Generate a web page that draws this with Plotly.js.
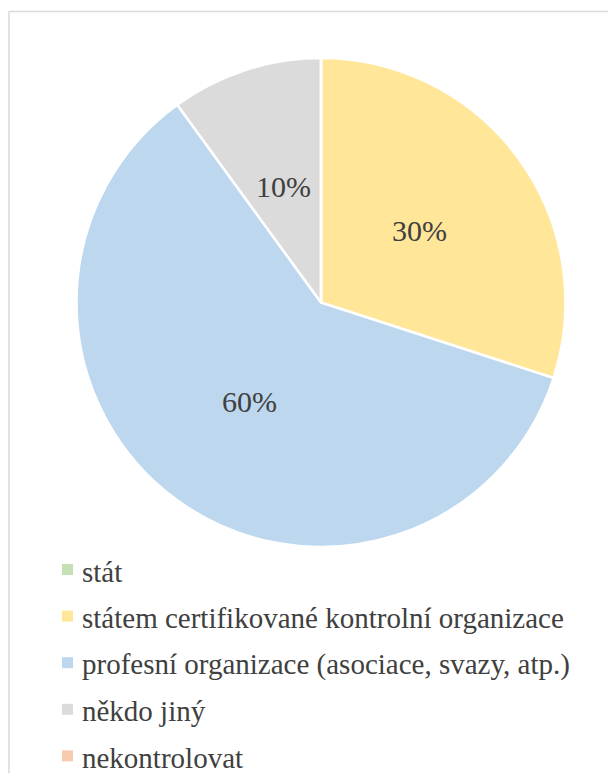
<!DOCTYPE html>
<html>
<head>
<meta charset="utf-8">
<script src="https://cdn.plot.ly/plotly-3.0.1.min.js"></script>
<style>html,body{margin:0;padding:0;background:#fff;}</style>
</head>
<body>
<div id="chart" style="width:608px;height:773px;"></div>
<script>
const categories = [
  "stát",
  "státem certifikované kontrolní organizace",
  "profesní organizace (asociace, svazy, atp.)",
  "někdo jiný",
  "nekontrolovat"
];
const values = [0, 30, 60, 10, 0];
const colors = ["#C5E0B4", "#FFE699", "#BDD7EE", "#DBDBDB", "#F8CBAD"];

const W = 608, H = 773;
const fontFam = "Liberation Serif";
const textColor = "#404040";

// pie placement (pixels)
const pieTop = 58, pieBottom = 547, pieLeft = 76, pieRight = 566;
const cx = (pieLeft + pieRight) / 2, cy = (pieTop + pieBottom) / 2;
const R = Math.min(pieRight - pieLeft, pieBottom - pieTop) / 2;

const trace = {
  type: "pie",
  labels: categories,
  values: values,
  sort: false,
  direction: "clockwise",
  rotation: 0,
  marker: { colors: colors, line: { color: "#ffffff", width: 2.5 } },
  textinfo: "none",
  hoverinfo: "label+percent",
  showlegend: false,
  domain: { x: [pieLeft / W, pieRight / W], y: [1 - pieBottom / H, 1 - pieTop / H] }
};

const annotations = [];
// percentage labels at half radius on each slice's mid-angle (clockwise from 12 o'clock)
const total = values.reduce((a, b) => a + b, 0);
let cum = 0;
values.forEach((v, i) => {
  const start = cum;
  cum += v;
  if (v <= 0) return;
  const mid = ((start + v / 2) / total) * 2 * Math.PI;
  const px = cx + 0.5 * R * Math.sin(mid);
  const py = cy - 0.5 * R * Math.cos(mid);
  annotations.push({
    xref: "paper", yref: "paper",
    x: px / W, y: 1 - py / H,
    xanchor: "center", yanchor: "middle",
    text: Math.round(v / total * 100) + "%",
    showarrow: false,
    font: { family: fontFam, size: 30, color: textColor }
  });
});

const shapes = [
  { type: "line", xref: "paper", yref: "paper", x0: 9 / W, x1: 1, y0: 1 - 11.5 / H, y1: 1 - 11.5 / H, line: { color: "#D9D9D9", width: 1.5 } },
  { type: "line", xref: "paper", yref: "paper", x0: 9 / W, x1: 9 / W, y0: 1 - 11.5 / H, y1: 0, line: { color: "#D9D9D9", width: 1.5 } }
];
// legend: markers + real text
const legTop = 569.5, legStep = 46.6, legX = 80;
categories.forEach((c, i) => {
  const yc = legTop + i * legStep;
  annotations.push({
    xref: "paper", yref: "paper",
    x: legX / W, y: 1 - (yc + 2) / H,
    xanchor: "left", yanchor: "middle",
    text: c, showarrow: false,
    font: { family: fontFam, size: 29, color: textColor }
  });
  shapes.push({
    type: "rect", xref: "paper", yref: "paper",
    x0: 62 / W, x1: 73 / W, y0: 1 - (yc + 5.5) / H, y1: 1 - (yc - 5.5) / H,
    fillcolor: colors[i], line: { width: 0 }
  });
});

const layout = {
  width: W, height: H,
  margin: { l: 0, r: 0, t: 0, b: 0 },
  paper_bgcolor: "#ffffff",
  plot_bgcolor: "#ffffff",
  showlegend: false,
  annotations: annotations,
  shapes: shapes
};

Plotly.newPlot("chart", [trace], layout, { displayModeBar: false, staticPlot: true });
</script>
</body>
</html>
